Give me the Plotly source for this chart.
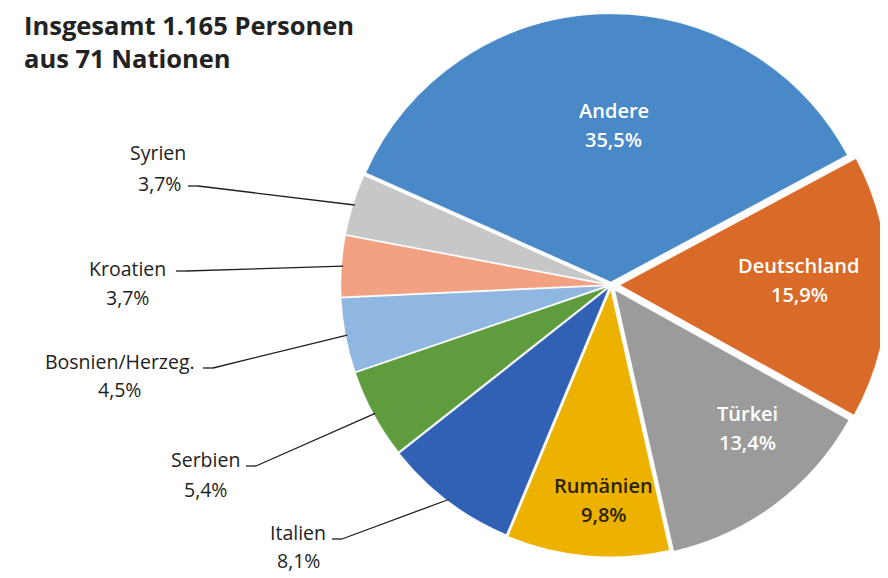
import math
import plotly.graph_objects as go

# ---------------- data ----------------
countries = ["Andere", "Deutschland", "Türkei", "Rumänien", "Italien",
             "Serbien", "Bosnien/Herzeg.", "Kroatien", "Syrien"]
shares = [35.5, 15.9, 13.4, 9.8, 8.1, 5.4, 4.5, 3.7, 3.7]
title_lines = ["Insgesamt 1.165 Personen", "aus 71 Nationen"]

# ---------------- style ----------------
colors = ["#4A89C8", "#D96A28", "#9B9B9B", "#EDB100", "#3061B5",
          "#5F9C3E", "#90B6E2", "#F2A283", "#C7C7C7"]
pulls = [0.01, 0.03, 0.02, 0.012, 0.008, 0.006, 0.006, 0.006, 0.006]
ROTATION = 294
OFF = 8                      # page body margin of the html page
W, H = 888 - OFF, 578 - OFF  # figure size so that it fills the window
DOM_X = [0.3705, 1.0]
DOM_Y = [0.028, 1.0]
FONT = "Open Sans"

# inside labels: (angle offset deg, radius fraction, text colour)
inside_style = {
    "Andere": (3, 0.595, "white"),
    "Deutschland": (-2, 0.70, "white"),
    "Türkei": (-7, 0.735, "white"),
    "Rumänien": (-3, 0.80, "#2B2300"),
}
# outside labels (window px): name centre, pct centre, leader start
outside_style = {
    "Syrien": ((158, 152), (159, 183), (188, 186)),
    "Kroatien": ((128, 268), (128, 297), (176, 271)),
    "Bosnien/Herzeg.": ((120, 361), (119, 389), (203, 368)),
    "Serbien": ((205, 459), (205, 489), (246, 466)),
    "Italien": ((298, 532), (298, 560), (332, 539)),
}

# ---------------- geometry (mirrors plotly's pie sizing) ----------------
box_w = W * (DOM_X[1] - DOM_X[0])
box_h = H * (DOM_Y[1] - DOM_Y[0])
cx = OFF + W * (DOM_X[0] + DOM_X[1]) / 2
cy = OFF + H * (1 - DOM_Y[0]) - box_h / 2
R = min(box_w, box_h) / 2 / (1 + max(pulls))

total = sum(shares)
mids = []
acc = ROTATION
for v in shares:
    span = 360 * v / total
    mids.append(acc + span / 2)
    acc += span


def polar(angle_deg, rad):
    a = math.radians(angle_deg)
    return cx + rad * math.sin(a), cy - rad * math.cos(a)


def px(x):
    return (x - OFF) / W


def py(y):
    return 1 - (y - OFF) / H


def fmt(v):
    return f"{v:.1f}".replace(".", ",") + "%"


fig = go.Figure(go.Pie(
    labels=countries, values=shares, sort=False, direction="clockwise",
    rotation=ROTATION, pull=pulls, textinfo="none", hoverinfo="label+percent",
    marker=dict(colors=colors, line=dict(color="rgba(255,255,255,0.85)", width=1.5)),
    domain=dict(x=DOM_X, y=DOM_Y), showlegend=False,
))

annotations = []
shapes = []
for i, name in enumerate(countries):
    pct = fmt(shares[i])
    if name in inside_style:
        d_ang, frac, col = inside_style[name]
        x, y = polar(mids[i] + d_ang, R * frac)
        for txt, dy in ((name, -14.5), (pct, 14.5)):
            annotations.append(dict(
                x=px(x), y=py(y + dy), xref="paper", yref="paper", text=txt,
                showarrow=False, xanchor="center", yanchor="middle",
                font=dict(family=FONT, size=20, color=col, weight=600)))
    else:
        (nx, ny), (qx, qy), (lx, ly) = outside_style[name]
        for txt, (tx, ty) in ((name, (nx, ny)), (pct, (qx, qy))):
            annotations.append(dict(
                x=px(tx), y=py(ty), xref="paper", yref="paper", text=txt,
                showarrow=False, xanchor="center", yanchor="middle",
                font=dict(family=FONT, size=19.5, color="#1E1E1E", weight=500)))
        ex, ey = polar(mids[i], R * (1 + pulls[i]) - 2)
        pts = [(lx, ly), (lx + 10, ly), (ex, ey)]
        for (x0, y0), (x1, y1) in zip(pts[:-1], pts[1:]):
            shapes.append(dict(type="line", xref="paper", yref="paper",
                               x0=px(x0), y0=py(y0), x1=px(x1), y1=py(y1),
                               line=dict(color="#1E1E1E", width=1.3)))

annotations.append(dict(
    x=px(22), y=py(6), xref="paper", yref="paper",
    text="<b>" + "<br>".join(title_lines) + "</b>", showarrow=False,
    xanchor="left", yanchor="top", align="left",
    font=dict(family=FONT, size=25.5, color="#222222")))

fig.update_layout(
    width=W, height=H, margin=dict(l=0, r=0, t=0, b=0),
    paper_bgcolor="white", plot_bgcolor="white",
    annotations=annotations, shapes=shapes,
    font=dict(family=FONT),
)

fig.write_html("out.html")
